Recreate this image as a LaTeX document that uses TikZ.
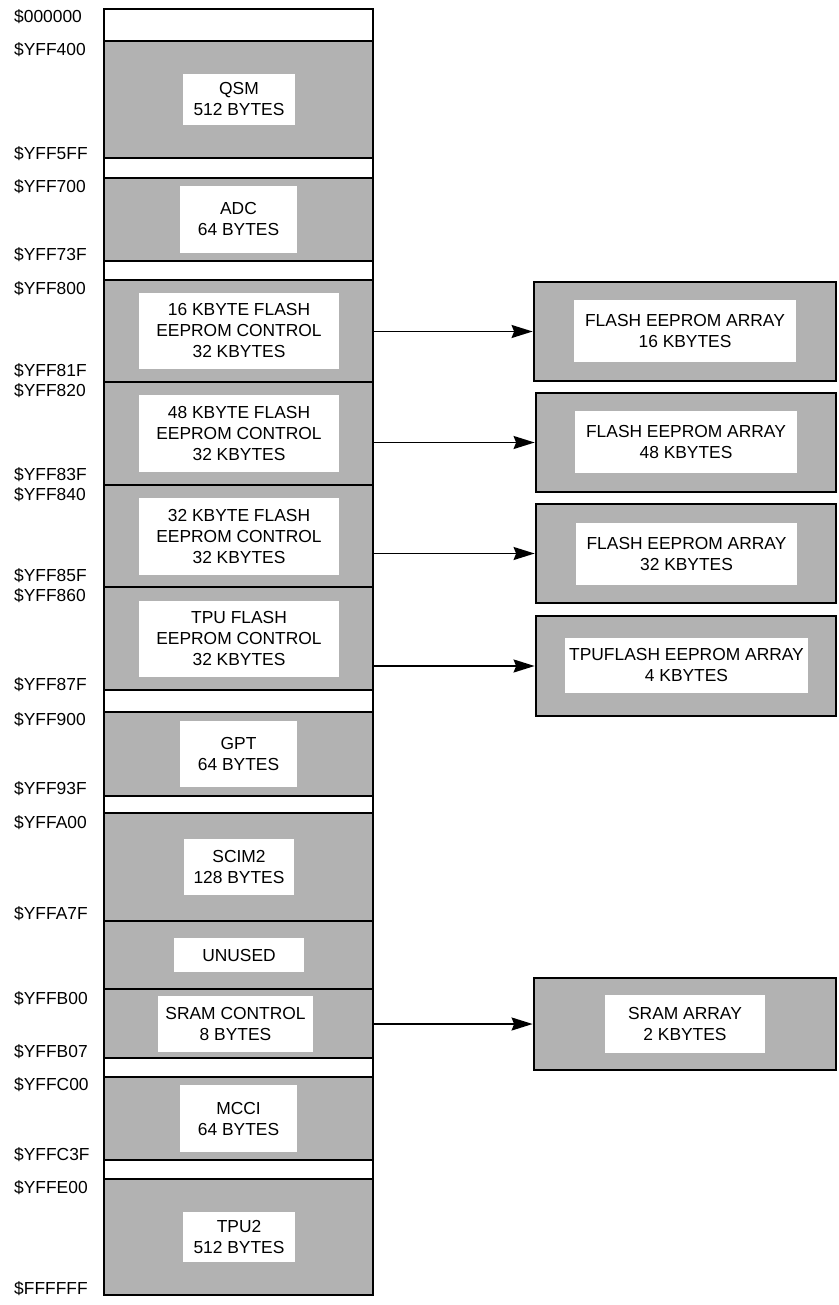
\documentclass[tikz,border=0pt]{standalone}
\usepackage{fontspec}
\setmainfont{Liberation Sans}
\usetikzlibrary{arrows.meta}
\definecolor{bgray}{RGB}{178,178,178}
\tikzset{
  txt/.style={font=\fontsize{17.4}{21}\selectfont, align=center},
  blockbox/.style={draw=black, line width=2.8pt, minimum width=269pt, inner sep=0pt},
  rbox/.style={draw=black, line width=2.8pt, fill=bgray, inner sep=0pt},
  inbox/.style={txt, fill=white, inner sep=0pt},
  addr/.style={font=\fontsize{17.4}{21}\selectfont, anchor=base west, inner sep=0pt},
  arr/.style={line width=1.7pt, -{Stealth[length=21pt,width=13pt,inset=2.5pt]}}
}
\newcommand{\blk}[4]{\node[blockbox, fill=#4, minimum height={(#3-#2)*1pt}] (#1) at (238.5,{(#2+#3)/2}) {};}
\newcommand{\inb}[6]{\node[inbox, minimum width=#4pt, minimum height=#5pt] (#1) at (#2,#3) {#6};}
\begin{document}
\begin{tikzpicture}[x=1pt,y=-1pt]
\useasboundingbox (0,0) rectangle (838,1305);
% main column blocks
\blk{b0}{9}{41}{white}
\blk{qsm}{41}{158}{bgray}
\blk{g1}{158}{178}{white}
\blk{adc}{178}{261}{bgray}
\blk{g2}{261}{280}{white}
\blk{f16}{280}{382}{bgray}
\blk{f48}{382}{485}{bgray}
\blk{f32}{485}{587}{bgray}
\blk{tpuf}{587}{690}{bgray}
\blk{g3}{690}{712}{white}
\blk{gpt}{712}{796}{bgray}
\blk{g4}{796}{813}{white}
\blk{scim}{813}{921}{bgray}
\blk{unused}{921}{989}{bgray}
\blk{sramc}{989}{1058}{bgray}
\blk{g5}{1058}{1077}{white}
\blk{mcci}{1077}{1160}{bgray}
\blk{g6}{1160}{1179}{white}
\blk{tpu2}{1179}{1295}{bgray}
% inner labels
\inb{qsmT}{239}{99.5}{112}{51}{QSM\\512 BYTES}
\inb{adcT}{238.5}{219.5}{117}{67}{ADC\\64 BYTES}
\inb{f16T}{239}{331}{200}{76}{16 KBYTE FLASH\\EEPROM CONTROL\\32 KBYTES}
\inb{f48T}{239}{433.5}{200}{77}{48 KBYTE FLASH\\EEPROM CONTROL\\32 KBYTES}
\inb{f32T}{239}{536.5}{200}{77}{32 KBYTE FLASH\\EEPROM CONTROL\\32 KBYTES}
\inb{tpufT}{239}{639}{200}{76}{TPU FLASH\\EEPROM CONTROL\\32 KBYTES}
\inb{gptT}{238.5}{754}{117}{66}{GPT\\64 BYTES}
\inb{scimT}{239}{867}{110}{56}{SCIM2\\128 BYTES}
\inb{unusedT}{239}{955}{130}{34}{UNUSED}
\inb{sramcT}{235.5}{1024}{155}{56}{SRAM CONTROL\\8 BYTES}
\inb{mcciT}{238.5}{1118.5}{117}{67}{MCCI\\64 BYTES}
\inb{tpu2T}{239}{1237}{112}{50}{TPU2\\512 BYTES}
% right boxes
\node[rbox, minimum width=302pt, minimum height=99pt] (r1) at (685,331.5) {};
\node[rbox, minimum width=300pt, minimum height=99pt] (r2) at (686,442.5) {};
\node[rbox, minimum width=300pt, minimum height=99pt] (r3) at (686,553.5) {};
\node[rbox, minimum width=300pt, minimum height=100pt] (r4) at (686,666) {};
\node[rbox, minimum width=302pt, minimum height=92pt] (r5) at (685,1024) {};
\inb{r1T}{685}{331}{222}{62}{FLASH EEPROM ARRAY\\16 KBYTES}
\inb{r2T}{686}{442}{222}{62}{FLASH EEPROM ARRAY\\48 KBYTES}
\inb{r3T}{686.5}{554}{221}{62}{FLASH EEPROM ARRAY\\32 KBYTES}
\inb{r4T}{686.5}{665.5}{243}{55}{TPUFLASH EEPROM ARRAY\\4 KBYTES}
\inb{r5T}{685}{1024}{160}{58}{SRAM ARRAY\\2 KBYTES}
% arrows
\draw[arr] (f16.east |- r1.west) -- (r1.west);
\draw[arr] (f48.east |- r2.west) -- (r2.west);
\draw[arr] (f32.east |- r3.west) -- (r3.west);
\draw[arr] (tpuf.east |- r4.west) -- (r4.west);
\draw[arr] (sramc.east |- r5.west) -- (r5.west);
% address labels
\node[addr] (a1) at (14,22.5) {\$000000};
\node[addr] (a2) at (14,55.5) {\$YFF400};
\node[addr] (a3) at (14,159.5) {\$YFF5FF};
\node[addr] (a4) at (14,192.5) {\$YFF700};
\node[addr] (a5) at (14,260.5) {\$YFF73F};
\node[addr] (a6) at (14,294.5) {\$YFF800};
\node[addr] (a7) at (14,376.5) {\$YFF81F};
\node[addr] (a8) at (14,396.5) {\$YFF820};
\node[addr] (a9) at (14,480.5) {\$YFF83F};
\node[addr] (a10) at (14,500.5) {\$YFF840};
\node[addr] (a11) at (14,581.5) {\$YFF85F};
\node[addr] (a12) at (14,601.5) {\$YFF860};
\node[addr] (a13) at (14,690.5) {\$YFF87F};
\node[addr] (a14) at (14,725.5) {\$YFF900};
\node[addr] (a15) at (14,794.5) {\$YFF93F};
\node[addr] (a16) at (14,828.5) {\$YFFA00};
\node[addr] (a17) at (14,919.5) {\$YFFA7F};
\node[addr] (a18) at (14,1004.5) {\$YFFB00};
\node[addr] (a19) at (14,1057.5) {\$YFFB07};
\node[addr] (a20) at (14,1090.5) {\$YFFC00};
\node[addr] (a21) at (14,1160.5) {\$YFFC3F};
\node[addr] (a22) at (14,1193.5) {\$YFFE00};
\node[addr] (a23) at (14,1294.5) {\$FFFFFF};
\end{tikzpicture}
\end{document}
